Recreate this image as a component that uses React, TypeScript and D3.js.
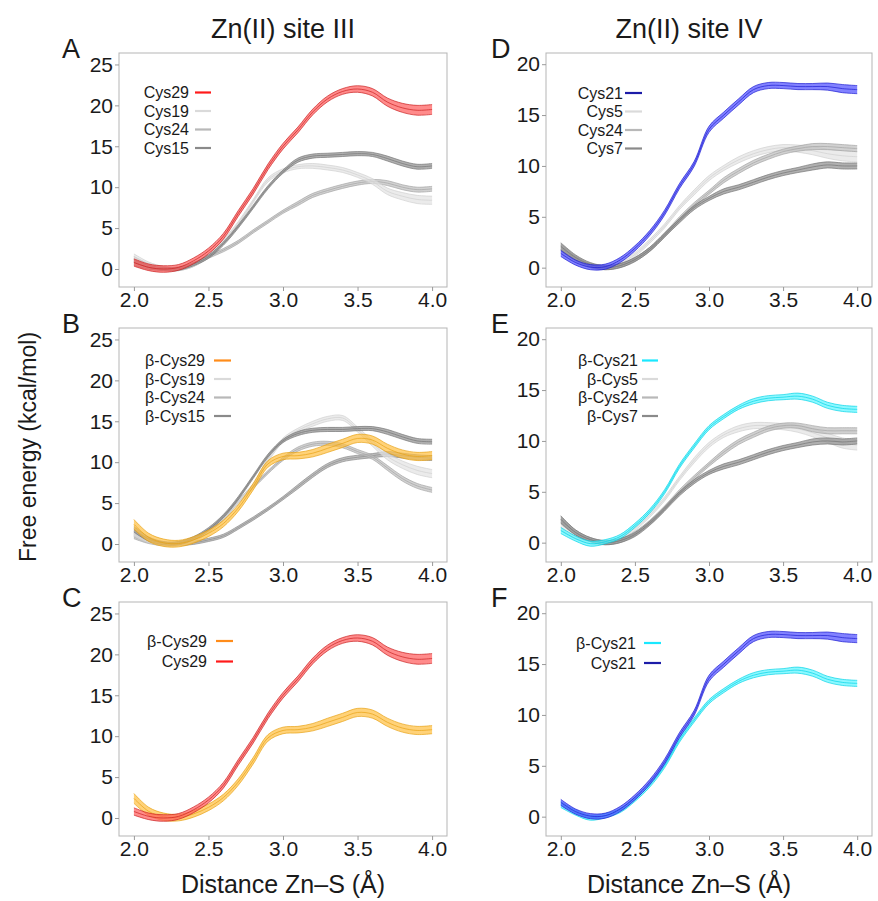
import { useRef, useEffect } from 'react';
import * as d3 from 'd3';

// Zn–S distance grid (Å)
const distance = [2.0, 2.1, 2.2, 2.3, 2.4, 2.5, 2.6, 2.7, 2.8, 2.9, 3.0, 3.1, 3.2, 3.3, 3.4, 3.5, 3.6, 3.7, 3.8, 3.9, 4.0];

// site III (kcal/mol)
const cys29 = [0.8, 0.2, 0.0, 0.2, 1.0, 2.2, 4.0, 6.8, 9.5, 12.5, 15.0, 17.0, 19.2, 20.8, 21.7, 22.0, 21.6, 20.4, 19.7, 19.4, 19.5];
const cys19 = [1.5, 0.6, 0.1, 0.0, 0.5, 1.7, 3.4, 5.6, 8.3, 10.9, 12.0, 12.5, 12.6, 12.4, 12.1, 11.5, 10.7, 9.5, 8.9, 8.5, 8.4];
const cys24a = [1.2, 0.4, 0.05, 0.0, 0.5, 1.5, 2.3, 3.3, 4.6, 5.8, 7.0, 8.0, 9.0, 9.6, 10.1, 10.5, 10.7, 10.5, 10.0, 9.7, 9.8];
const cys15 = [0.8, 0.2, 0.0, 0.05, 0.6, 1.5, 3.1, 5.2, 7.6, 10.0, 11.9, 13.3, 13.8, 13.9, 14.0, 14.1, 14.0, 13.5, 12.9, 12.5, 12.6];
const bCys29 = [2.4, 0.8, 0.15, 0.05, 0.5, 1.3, 2.5, 4.4, 7.0, 9.8, 10.7, 10.8, 11.1, 11.7, 12.3, 12.9, 12.7, 11.7, 11.0, 10.7, 10.8];
const bCys19 = [1.3, 0.4, 0.0, 0.0, 0.5, 1.6, 3.2, 5.2, 7.2, 10.3, 12.7, 13.9, 14.7, 15.3, 15.4, 14.0, 12.3, 10.7, 9.7, 9.0, 8.6];
const bCys24a = [1.0, 0.3, 0.0, 0.1, 0.6, 1.6, 3.1, 5.2, 7.0, 8.8, 10.4, 11.6, 12.2, 12.3, 12.0, 11.3, 10.6, 9.3, 8.0, 7.1, 6.6];
const bCys15 = [1.8, 0.6, 0.1, 0.1, 0.7, 1.8, 3.4, 5.6, 8.2, 10.8, 12.6, 13.5, 13.9, 14.0, 14.0, 14.1, 14.1, 13.7, 13.1, 12.6, 12.5];
const bCysSlow = [1.2, 0.4, 0.0, 0.0, 0.15, 0.5, 1.0, 2.0, 3.1, 4.3, 5.6, 7.0, 8.4, 9.6, 10.3, 10.6, 10.8, 11.0, 10.8, 10.6, 10.5];

// site IV (kcal/mol)
const cys21 = [1.4, 0.5, 0.05, 0.1, 0.75, 1.9, 3.4, 5.4, 8.0, 10.2, 13.6, 15.0, 16.3, 17.5, 17.9, 17.9, 17.8, 17.8, 17.8, 17.6, 17.5];
const cys5 = [1.8, 0.8, 0.2, 0.05, 0.4, 1.3, 2.6, 4.1, 5.9, 7.4, 8.8, 9.8, 10.6, 11.2, 11.6, 11.8, 11.7, 11.5, 11.2, 11.0, 10.9];
const cys24d = [2.0, 0.9, 0.2, 0.0, 0.2, 0.8, 1.8, 3.2, 4.8, 6.2, 7.4, 8.6, 9.5, 10.3, 10.9, 11.4, 11.7, 11.9, 11.9, 11.8, 11.7];
const cys7 = [2.1, 1.0, 0.3, 0.0, 0.2, 0.8, 1.8, 3.2, 4.6, 5.9, 6.8, 7.5, 7.9, 8.4, 8.9, 9.3, 9.6, 9.9, 10.1, 10.0, 10.0];
const bCys21 = [1.2, 0.4, -0.1, 0.1, 0.6, 1.7, 3.1, 5.0, 7.5, 9.5, 11.3, 12.4, 13.3, 13.9, 14.2, 14.3, 14.4, 14.1, 13.5, 13.2, 13.1];
const bCys5 = [1.5, 0.6, 0.1, 0.0, 0.4, 1.4, 2.7, 4.3, 6.3, 8.1, 9.6, 10.6, 11.2, 11.5, 11.5, 11.4, 11.2, 10.8, 10.3, 9.8, 9.6];
const bCys24d = [2.2, 1.0, 0.3, 0.0, 0.2, 0.9, 2.0, 3.4, 5.0, 6.4, 7.7, 8.9, 9.9, 10.6, 11.2, 11.5, 11.5, 11.2, 11.0, 11.0, 11.0];
const bCys7 = [2.3, 1.0, 0.3, 0.0, 0.2, 0.8, 1.9, 3.3, 4.8, 6.0, 6.9, 7.5, 7.9, 8.4, 8.9, 9.3, 9.6, 9.9, 10.0, 9.9, 10.0];

// half-width of the error bands (kcal/mol)
const spreadCys29 = [0.45, 0.4, 0.4, 0.35, 0.35, 0.35, 0.35, 0.35, 0.35, 0.35, 0.35, 0.35, 0.35, 0.35, 0.35, 0.4, 0.45, 0.5, 0.55, 0.6, 0.6];
const spreadBCys29 = [0.6, 0.5, 0.45, 0.4, 0.4, 0.4, 0.4, 0.4, 0.4, 0.4, 0.4, 0.4, 0.45, 0.5, 0.5, 0.5, 0.5, 0.5, 0.5, 0.5, 0.5];
const spreadCys21 = [0.3, 0.25, 0.25, 0.25, 0.25, 0.25, 0.25, 0.25, 0.25, 0.25, 0.3, 0.3, 0.3, 0.3, 0.3, 0.3, 0.3, 0.3, 0.35, 0.4, 0.4];
const spreadBCys21 = [0.3, 0.25, 0.25, 0.2, 0.2, 0.2, 0.2, 0.2, 0.2, 0.2, 0.2, 0.2, 0.2, 0.25, 0.25, 0.25, 0.3, 0.3, 0.3, 0.3, 0.3];
const spreadGrey = [0.35, 0.25, 0.2, 0.2, 0.2, 0.2, 0.2, 0.2, 0.2, 0.2, 0.2, 0.25, 0.25, 0.25, 0.25, 0.25, 0.25, 0.3, 0.3, 0.3, 0.3];
const spreadGreyWide = [0.35, 0.25, 0.2, 0.2, 0.2, 0.2, 0.2, 0.2, 0.2, 0.25, 0.25, 0.25, 0.3, 0.3, 0.3, 0.3, 0.35, 0.4, 0.45, 0.5, 0.5];

const yTicksIII = [0, 5, 10, 15, 20, 25];
const yTicksIV = [0, 5, 10, 15, 20];
const xTicks = [2.0, 2.5, 3.0, 3.5, 4.0];

const RED = { fill: '#ff5a5a', stroke: '#c81e1e', key: '#ff1a1a' };
const ORANGE = { fill: '#ffbf40', stroke: '#e8a010', key: '#ff8c1a' };
const BLUE = { fill: '#4d4dff', stroke: '#1a1ad0', key: '#1c1ca8' };
const CYAN = { fill: '#5cf5ff', stroke: '#00d2e6', key: '#1ae8ff' };
const G1 = { fill: '#e3e3e3', stroke: '#cfcfcf', key: '#dadada' };
const G2 = { fill: '#bdbdbd', stroke: '#a3a3a3', key: '#b8b8b8' };
const G3 = { fill: '#8f8f8f', stroke: '#737373', key: '#8a8a8a' };
const G4 = { fill: '#a3a3a3', stroke: '#888888', key: '#999999' };

const FONT = '"Liberation Sans", Arial, sans-serif';

function App() {
  const svgRef = useRef<SVGSVGElement>(null);

  useEffect(() => {
    document.body.style.margin = '0';
    const svg = d3.select(svgRef.current);
    svg.selectAll('*').remove();

    const panelH = 234;
    const cols = [
      { left: 119, width: 328, domain: [-2.2, 26.4], ticks: yTicksIII, letterX: 62 },
      { left: 546, width: 326, domain: [-1.9, 21.1], ticks: yTicksIV, letterX: 491 },
    ];
    const rows = [53, 328, 602];

    const panels = [
      {
        col: 0, row: 0, letter: 'A',
        series: [
          { v: cys24a, s: spreadGrey, c: G2 },
          { v: cys19, s: spreadGreyWide, c: G1 },
          { v: cys15, s: spreadGrey, c: G3 },
          { v: cys29, s: spreadCys29, c: RED },
        ],
        legend: { textX: 189, lx1: 195, lx2: 211, y0: 92.5, dy: 18.5, items: [['Cys29', RED], ['Cys19', G1], ['Cys24', G2], ['Cys15', G3]] },
      },
      {
        col: 0, row: 1, letter: 'B',
        series: [
          { v: bCysSlow, s: spreadGrey, c: G4 },
          { v: bCys24a, s: spreadGrey, c: G2 },
          { v: bCys19, s: spreadGreyWide, c: G1 },
          { v: bCys15, s: spreadGrey, c: G3 },
          { v: bCys29, s: spreadBCys29, c: ORANGE },
        ],
        legend: { textX: 205, lx1: 214, lx2: 231, y0: 360.5, dy: 18.5, items: [['β-Cys29', ORANGE], ['β-Cys19', G1], ['β-Cys24', G2], ['β-Cys15', G3]] },
      },
      {
        col: 0, row: 2, letter: 'C',
        series: [
          { v: bCys29, s: spreadBCys29, c: ORANGE },
          { v: cys29, s: spreadCys29, c: RED },
        ],
        legend: { textX: 207, lx1: 216, lx2: 233, y0: 641, dy: 20.5, items: [['β-Cys29', ORANGE], ['Cys29', RED]] },
      },
      {
        col: 1, row: 0, letter: 'D',
        series: [
          { v: cys5, s: spreadGreyWide, c: G1 },
          { v: cys24d, s: spreadGrey, c: G2 },
          { v: cys7, s: spreadGrey, c: G3 },
          { v: cys21, s: spreadCys21, c: BLUE },
        ],
        legend: { textX: 623, lx1: 625, lx2: 642, y0: 93, dy: 18.5, items: [['Cys21', BLUE], ['Cys5', G1], ['Cys24', G2], ['Cys7', G3]] },
      },
      {
        col: 1, row: 1, letter: 'E',
        series: [
          { v: bCys5, s: spreadGreyWide, c: G1 },
          { v: bCys24d, s: spreadGrey, c: G2 },
          { v: bCys7, s: spreadGrey, c: G3 },
          { v: bCys21, s: spreadBCys21, c: CYAN },
        ],
        legend: { textX: 638, lx1: 642, lx2: 658, y0: 360.5, dy: 18.5, items: [['β-Cys21', CYAN], ['β-Cys5', G1], ['β-Cys24', G2], ['β-Cys7', G3]] },
      },
      {
        col: 1, row: 2, letter: 'F',
        series: [
          { v: bCys21, s: spreadBCys21, c: CYAN },
          { v: cys21, s: spreadCys21, c: BLUE },
        ],
        legend: { textX: 636, lx1: 644, lx2: 661, y0: 643, dy: 20, items: [['β-Cys21', CYAN], ['Cys21', BLUE]] },
      },
    ];

    panels.forEach((p, pi) => {
      const col = cols[p.col];
      const top = rows[p.row];
      const x = d3.scaleLinear().domain([1.9, 4.1]).range([col.left, col.left + col.width]);
      const y = d3.scaleLinear().domain(col.domain).range([top + panelH, top]);
      const g = svg.append('g');

      const clipId = `clip-${pi}`;
      g.append('clipPath')
        .attr('id', clipId)
        .append('rect')
        .attr('x', col.left)
        .attr('y', top)
        .attr('width', col.width)
        .attr('height', panelH);

      const plot = g.append('g').attr('clip-path', `url(#${clipId})`);

      p.series.forEach((sr) => {
        const pts = distance.map((d, i) => ({ d, v: sr.v[i], s: sr.s[i] }));
        const area = d3
          .area<{ d: number; v: number; s: number }>()
          .curve(d3.curveCatmullRom)
          .x((d) => x(d.d))
          .y0((d) => y(d.v - d.s))
          .y1((d) => y(d.v + d.s));
        plot.append('path').attr('d', area(pts)).attr('fill', sr.c.fill).attr('fill-opacity', 0.7);

        [-1, 0, 1].forEach((k) => {
          const line = d3
            .line<{ d: number; v: number; s: number }>()
            .curve(d3.curveCatmullRom)
            .x((d) => x(d.d))
            .y((d) => y(d.v + k * d.s));
          plot
            .append('path')
            .attr('d', line(pts))
            .attr('fill', 'none')
            .attr('stroke', sr.c.stroke)
            .attr('stroke-width', 0.8)
            .attr('stroke-opacity', 0.85);
        });
      });

      g.append('rect')
        .attr('x', col.left)
        .attr('y', top)
        .attr('width', col.width)
        .attr('height', panelH)
        .attr('fill', 'none')
        .attr('stroke', '#b5b5b5')
        .attr('stroke-width', 1);

      const yAxis = g
        .append('g')
        .attr('transform', `translate(${col.left},0)`)
        .call(d3.axisLeft(y).tickValues(col.ticks).tickSize(4).tickPadding(2).tickFormat(d3.format('d')));
      const xAxis = g
        .append('g')
        .attr('transform', `translate(0,${top + panelH})`)
        .call(d3.axisBottom(x).tickValues(xTicks).tickSize(4).tickPadding(1).tickFormat(d3.format('.1f')));
      [yAxis, xAxis].forEach((ax) => {
        ax.select('.domain').remove();
        ax.selectAll('line').attr('stroke', '#9a9a9a');
        ax.selectAll('text').attr('fill', '#1a1a1a').style('font-family', FONT).style('font-size', '21px');
      });

      const lg = p.legend;
      lg.items.forEach(([label, c]: any, i: number) => {
        const yy = lg.y0 + i * lg.dy;
        g.append('text')
          .attr('x', lg.textX)
          .attr('y', yy)
          .attr('dy', '0.36em')
          .attr('text-anchor', 'end')
          .attr('fill', '#1a1a1a')
          .style('font-family', FONT)
          .style('font-size', '16px')
          .text(label);
        g.append('line')
          .attr('x1', lg.lx1)
          .attr('x2', lg.lx2)
          .attr('y1', yy)
          .attr('y2', yy)
          .attr('stroke', c.key)
          .attr('stroke-width', 2.2);
      });

      g.append('text')
        .attr('x', col.letterX)
        .attr('y', top + 5)
        .attr('fill', '#1a1a1a')
        .style('font-family', FONT)
        .style('font-size', '27px')
        .text(p.letter);
    });

    const titles = [
      { x: 283, text: 'Zn(II) site III' },
      { x: 689, text: 'Zn(II) site IV' },
    ];
    titles.forEach((t) => {
      svg.append('text')
        .attr('x', t.x)
        .attr('y', 38)
        .attr('text-anchor', 'middle')
        .attr('fill', '#1a1a1a')
        .style('font-family', FONT)
        .style('font-size', '27px')
        .text(t.text);
      svg.append('text')
        .attr('x', t.x)
        .attr('y', 893)
        .attr('text-anchor', 'middle')
        .attr('fill', '#1a1a1a')
        .style('font-family', FONT)
        .style('font-size', '25px')
        .text('Distance Zn–S (Å)');
    });

    svg.append('text')
      .attr('transform', 'translate(36,447) rotate(-90)')
      .attr('text-anchor', 'middle')
      .attr('fill', '#1a1a1a')
      .style('font-family', FONT)
      .style('font-size', '23px')
      .text('Free energy (kcal/mol)');
  }, []);

  return <svg ref={svgRef} width={878} height={901} style={{ display: 'block' }}></svg>;
}

export default App;
